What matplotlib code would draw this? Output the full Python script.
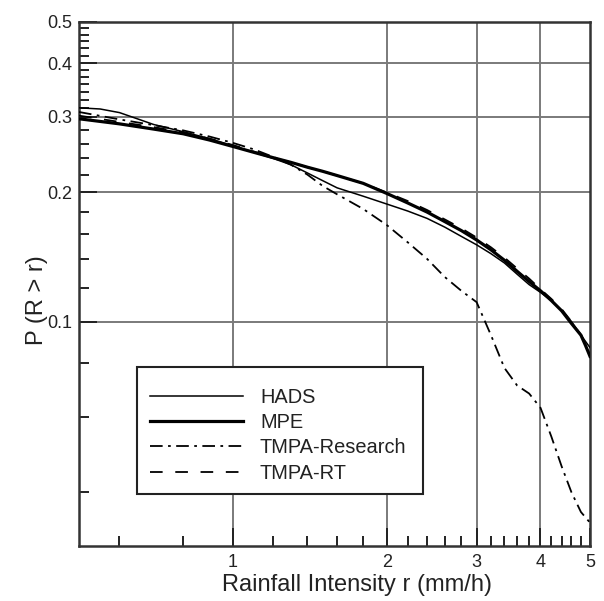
import numpy as np
import matplotlib
matplotlib.use("Agg")
import matplotlib.pyplot as plt
from matplotlib.patches import Rectangle
from matplotlib.ticker import FixedLocator, NullFormatter, FixedFormatter

plt.rcParams["font.family"] = ["Liberation Sans", "DejaVu Sans"]

# Exceedance probability P(R > r) for each rainfall product
hads_r = [0.5, 0.55, 0.6, 0.65, 0.7, 0.8, 0.9, 1.0, 1.1, 1.2, 1.3, 1.4, 1.5, 1.6, 1.8,
          2.0, 2.2, 2.4, 2.6, 2.8, 3.0, 3.2, 3.4, 3.6, 3.8, 4.0, 4.2, 4.4, 4.6, 4.8, 5.0]
hads_p = [0.315, 0.313, 0.307, 0.297, 0.288, 0.277, 0.267, 0.257, 0.248, 0.240, 0.232,
          0.222, 0.213, 0.205, 0.196, 0.188, 0.181, 0.174, 0.166, 0.158, 0.151, 0.144,
          0.137, 0.129, 0.122, 0.117, 0.112, 0.106, 0.100, 0.093, 0.087]

mpe_r = [0.5, 0.6, 0.7, 0.8, 0.9, 1.0, 1.1, 1.2, 1.3, 1.4, 1.5, 1.6, 1.8, 2.0, 2.2,
         2.4, 2.6, 2.8, 3.0, 3.2, 3.4, 3.6, 3.8, 4.0, 4.2, 4.4, 4.6, 4.8, 4.9, 5.0]
mpe_p = [0.297, 0.289, 0.281, 0.274, 0.265, 0.256, 0.248, 0.241, 0.235, 0.229, 0.224,
         0.219, 0.210, 0.199, 0.189, 0.180, 0.171, 0.163, 0.155, 0.147, 0.139, 0.131,
         0.124, 0.118, 0.112, 0.106, 0.099, 0.093, 0.088, 0.083]

tmpa_res_r = [0.5, 0.6, 0.7, 0.8, 0.9, 1.0, 1.1, 1.2, 1.3, 1.4, 1.5, 1.6, 1.8, 2.0,
              2.2, 2.4, 2.6, 2.8, 3.0, 3.2, 3.4, 3.6, 3.8, 4.0, 4.2, 4.4, 4.6, 4.8, 5.0]
tmpa_res_p = [0.308, 0.296, 0.287, 0.279, 0.270, 0.261, 0.252, 0.242, 0.232, 0.220,
              0.207, 0.198, 0.183, 0.168, 0.153, 0.140, 0.127, 0.118, 0.111, 0.093,
              0.078, 0.071, 0.068, 0.063, 0.054, 0.046, 0.040, 0.036, 0.034]

tmpa_rt_r = [0.5, 0.6, 0.7, 0.8, 0.9, 1.0, 1.1, 1.2, 1.3, 1.4, 1.5, 1.6, 1.8, 2.0,
             2.2, 2.4, 2.6, 2.8, 3.0, 3.2, 3.4, 3.6, 3.8, 4.0, 4.2, 4.4, 4.6, 4.8, 5.0]
tmpa_rt_p = [0.302, 0.292, 0.284, 0.276, 0.267, 0.258, 0.249, 0.241, 0.235, 0.229,
             0.224, 0.219, 0.210, 0.200, 0.191, 0.182, 0.173, 0.165, 0.157, 0.149,
             0.141, 0.133, 0.126, 0.119, 0.113, 0.107, 0.100, 0.093, 0.085]

x_major = [1, 2, 3, 4, 5]
x_major_labels = ["1", "2", "3", "4", "5"]
y_major = [0.1, 0.2, 0.3, 0.4, 0.5]
y_major_labels = ["0.1", "0.2", "0.3", "0.4", "0.5"]

W, H = 604, 601
fig = plt.figure(figsize=(W / 100, H / 100), dpi=100)
ax = fig.add_axes([79 / W, 1 - 546 / H, (590 - 79) / W, (546 - 21.7) / H])
ax.set_xscale("log")
ax.set_yscale("log")
ax.set_xlim(0.5, 5)
ax.set_ylim(0.03, 0.5)

grid_c = "#7a7a7a"
for xv in x_major[:-1]:
    ax.axvline(xv, color=grid_c, lw=1.4, zorder=1)
for yv in y_major[:-1]:
    ax.axhline(yv, color=grid_c, lw=1.4, zorder=1)

ax.plot(hads_r, hads_p, color="black", lw=1.1, label="HADS", zorder=3)
ax.plot(mpe_r, mpe_p, color="black", lw=2.3, label="MPE", zorder=3)
ax.plot(tmpa_res_r, tmpa_res_p, color="black", lw=1.3,
        dashes=(7, 3, 1.5, 3), label="TMPA-Research", zorder=3)
ax.plot(tmpa_rt_r, tmpa_rt_p, color="black", lw=1.3,
        dashes=(7, 7), label="TMPA-RT", zorder=3)

# Tick layout: minor subdivisions differ between the labelled intervals
x_minor = [0.6, 0.8] + [v / 10 for v in range(12, 50, 2) if v % 10 != 0]
y_minor = ([0.04, 0.06, 0.08]
           + [0.1 + 0.02 * k for k in range(1, 5)]
           + [0.2 + 0.02 * k for k in range(1, 5)]
           + [0.3 + 0.1 * k / 7 for k in range(1, 7)]
           + [0.4 + 0.1 * k / 6 for k in range(1, 6)])
ax.xaxis.set_major_locator(FixedLocator(x_major))
ax.xaxis.set_major_formatter(FixedFormatter(x_major_labels))
ax.xaxis.set_minor_locator(FixedLocator(x_minor))
ax.xaxis.set_minor_formatter(NullFormatter())
ax.yaxis.set_major_locator(FixedLocator(y_major))
ax.yaxis.set_major_formatter(FixedFormatter(y_major_labels))
ax.yaxis.set_minor_locator(FixedLocator(y_minor))
ax.yaxis.set_minor_formatter(NullFormatter())
ax.tick_params(which="both", direction="in", top=False, right=False,
               color="#222222", labelsize=13, width=1.4, labelcolor="#222222")
ax.tick_params(which="major", length=13, pad=5)
ax.tick_params(axis="x", which="major", pad=6)
ax.tick_params(which="minor", length=7)
for s in ax.spines.values():
    s.set_linewidth(1.8)
    s.set_color("#333333")

ax.set_xlabel("Rainfall Intensity r (mm/h)", fontsize=17, color="#222222")
ax.set_ylabel("P (R > r)", fontsize=17, color="#222222")
ax.xaxis.set_label_coords((357 - 79) / 511, -28 / 524.3)
ax.yaxis.set_label_coords(-31 / 511, (546 - 300) / 524.3)

# Legend box with entries inside it
box = Rectangle((137 / W, 1 - 494 / H), 286 / W, 127 / H, transform=fig.transFigure,
                facecolor="white", edgecolor="#222222", lw=1.5, zorder=4)
fig.patches.append(box)
leg = fig.legend(loc="upper left", bbox_to_anchor=(150 / W, 1 - 388 / H),
                 bbox_transform=fig.transFigure, fontsize=14.4, frameon=False,
                 handlelength=4.65, handletextpad=0.85, labelspacing=0.31,
                 borderpad=0, borderaxespad=0)
leg.set_zorder(5)
for t in leg.get_texts():
    t.set_color("#222222")

fig.savefig("out.png", dpi=100)
